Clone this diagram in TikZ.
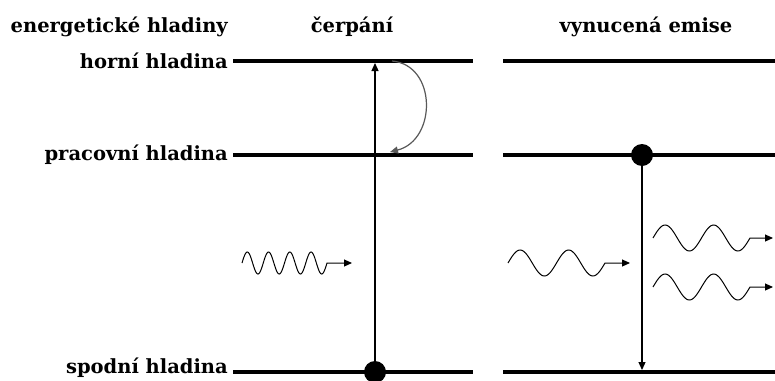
\documentclass[tikz,border=0pt]{standalone}
\usepackage{fontspec}
\setmainfont{DejaVu Serif}
\usetikzlibrary{arrows.meta,positioning}

\begin{document}
\begin{tikzpicture}[
  x=1pt, y=-1pt,
  level/.style={line width=4pt},
  lbl/.style={anchor=east, inner sep=0pt, font=\bfseries\fontsize{19.5}{23}\selectfont},
  head/.style={inner sep=0pt, font=\bfseries\fontsize{19.5}{23}\selectfont},
  dot/.style={circle, fill=black, minimum size=22pt, inner sep=0pt},
  trans/.style={line width=1.2pt, -{Triangle[length=8pt,width=7pt]}},
  photon/.style={line width=1pt, -{Triangle[length=8pt,width=7pt]}}
]
  \useasboundingbox (0,0) rectangle (775,380);

  % Headings
  \node[head, anchor=east] (hlevels) at (228,27) {energetické hladiny};
  \node[head] (hpump) at (352,27) {čerpání};
  \node[head] (hemit) at (646,27) {vynucená emise};

  % Level names
  \node[lbl] (nupper) at (228,61) {horní hladina};
  \node[lbl] (nwork) at (228,155) {pracovní hladina};
  \node[lbl] (nlower) at (228,368) {spodní hladina};

  % Energy levels, pumping
  \coordinate (uL) at (233,61);  \coordinate (uR) at (473,61);
  \coordinate (wL) at (233,155); \coordinate (wR) at (473,155);
  \coordinate (lL) at (233,372); \coordinate (lR) at (473,372);
  \draw[level] (uL) -- (uR);
  \draw[level] (wL) -- (wR);
  \draw[level] (lL) -- (lR);

  % Energy levels, stimulated emission
  \coordinate (uL2) at (503,61);  \coordinate (uR2) at (775,61);
  \coordinate (wL2) at (503,155); \coordinate (wR2) at (775,155);
  \coordinate (lL2) at (503,372); \coordinate (lR2) at (775,372);
  \draw[level] (uL2) -- (uR2);
  \draw[level] (wL2) -- (wR2);
  \draw[level] (lL2) -- (lR2);

  % Pumping
  \node[dot] (pump) at (375,372) {};
  \coordinate (pumptop) at (375,63);
  \draw[trans] (pump.center) -- (pumptop);
  \coordinate (dropa) at (392,61);
  \coordinate (dropb) at (390,152);
  \draw[line width=1.2pt, gray!70!black, -{Triangle[length=8pt,width=7pt]}]
    (dropa) .. controls (437,65) and (437,140) .. (dropb);

  % Stimulated emission
  \node[dot] (emit) at (642,155) {};
  \coordinate (emitbot) at (642,370);
  \draw[trans] (emit.center) -- (emitbot);

  % Photons
  \coordinate (p1b) at (352,263);
  \draw[photon] plot[domain=0:1440, samples=145, smooth] ({242+\x/360*21.25},{263-11*sin(\x)}) -- (p1b);
  \coordinate (p2b) at (630,263);
  \draw[photon] plot[domain=0:720, samples=73, smooth] ({508+\x/360*48.5},{263-13*sin(\x)}) -- (p2b);
  \coordinate (p3b) at (773,238);
  \draw[photon] plot[domain=0:720, samples=73, smooth] ({653+\x/360*48.5},{238-13*sin(\x)}) -- (p3b);
  \coordinate (p4b) at (773,287);
  \draw[photon] plot[domain=0:720, samples=73, smooth] ({653+\x/360*48.5},{287-13*sin(\x)}) -- (p4b);
\end{tikzpicture}
\end{document}
